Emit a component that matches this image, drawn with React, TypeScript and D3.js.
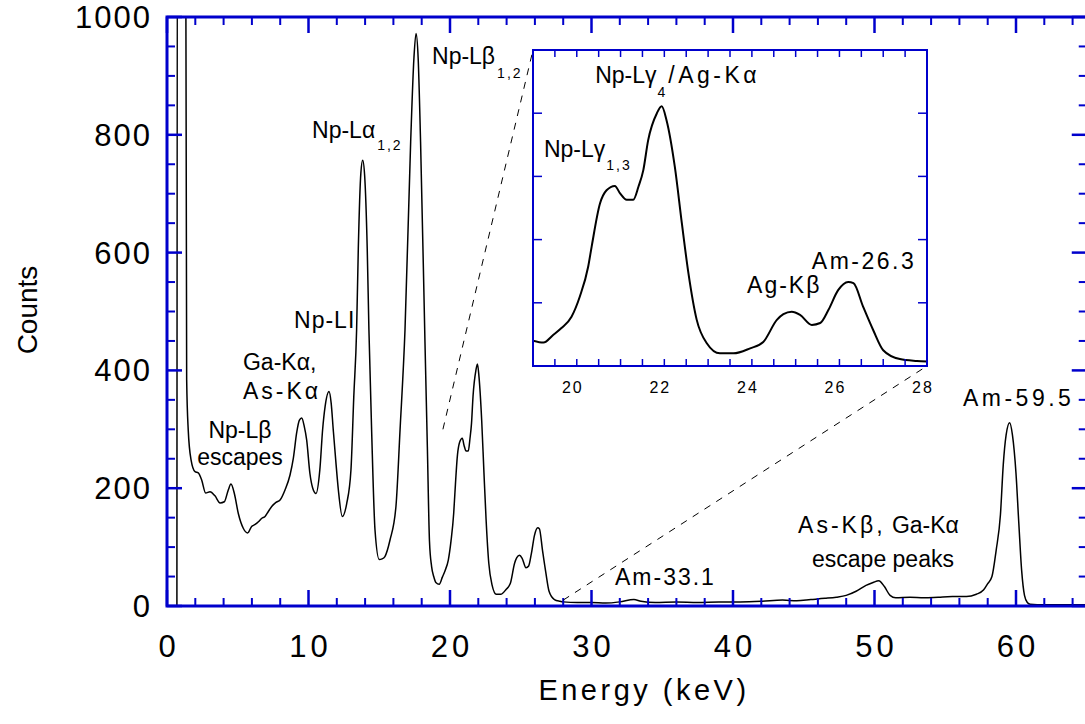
import React from "react";
import * as d3 from "d3";

// spectrum: energy (keV) and counts
const energy = [
  0.7, 0.74, 1.3, 1.39, 1.5, 1.7, 1.98, 2.21, 2.45, 2.73, 3.04, 3.39, 3.75, 4.05, 4.33, 4.52, 4.76,
  5.04, 5.39, 5.7, 5.98, 6.2, 6.46, 6.7, 6.93, 7.15, 7.4, 7.7, 7.99, 8.34, 8.69, 8.93, 9.17, 9.35,
  9.52, 9.7, 9.87, 10.1, 10.3, 10.53, 10.8, 11.0, 11.17, 11.45, 11.6, 11.75, 11.95, 12.11, 12.39,
  12.7, 13.0, 13.2, 13.4, 13.52, 13.7, 13.83, 13.97, 14.15, 14.27, 14.46, 14.7, 15.0, 15.2, 15.4,
  15.76, 16.18, 16.47, 16.82, 17.22, 17.45, 17.6, 17.75, 17.92, 18.23, 18.4, 18.55, 18.7, 18.85,
  19.0, 19.24, 19.46, 19.65, 19.88, 20.07, 20.26, 20.34, 20.53, 20.68, 20.87, 20.99, 21.14, 21.29,
  21.41, 21.52, 21.63, 21.83, 21.94, 22.05, 22.24, 22.4, 22.55, 22.74, 22.97, 23.27, 23.58, 23.96,
  24.26, 24.57, 24.72, 24.91, 25.1, 25.37, 25.56, 25.75, 25.97, 26.2, 26.32, 26.54, 26.77, 27.0,
  27.38, 27.77, 28.0, 29.0, 30.0, 31.0, 32.0, 33.0, 33.5, 34.5, 36.0, 37.5, 39.0, 40.5, 42.0, 43.5,
  44.5, 45.5, 46.5, 47.3, 48.0, 48.7, 49.4, 49.9, 50.3, 50.7, 51.1, 51.5, 52.5, 53.5, 54.5, 55.5,
  56.5, 57.2, 57.7, 58.0, 58.3, 58.6, 58.9, 59.1, 59.3, 59.55, 59.75, 60.0, 60.2, 60.4, 60.6, 60.8,
  61.0, 62.0, 63.0, 64.0, 65.0,
];
const counts = [
  0, 1400, 1400, 384, 299, 248, 228, 226, 214, 192, 194, 187, 175, 177, 197, 207, 191,
  157, 132, 124, 135, 138, 143, 149, 152, 160, 169, 176, 180, 197, 222, 251, 295, 315,
  319, 305, 282, 225, 200, 191, 231, 300, 338, 364, 345, 299, 240, 197, 152,
  174, 231, 355, 469, 607, 735, 757, 730, 607, 469, 299, 129, 79, 80, 84,
  112, 169, 299, 469, 788, 930, 972, 930, 788, 449, 270, 110, 67, 50,
  40, 37, 49, 60, 78, 110, 157, 189, 257, 278, 285, 273, 263, 263,
  284, 310, 357, 400, 411, 389, 315, 226, 147, 73, 36, 20, 20, 28,
  38, 73, 82, 86, 81, 65, 68, 89, 120, 133, 131, 94, 57, 25,
  11, 8, 7, 6, 6, 5, 7, 11, 8, 6, 7, 6, 7, 7, 8, 10,
  9, 11, 13, 15, 18, 25, 35, 40, 43, 33, 18, 14, 15, 14, 15, 16,
  16, 20, 27, 38, 50, 95, 155, 240, 290, 311, 290, 225, 140, 60, 18, 6,
  3, 2, 2, 2, 2,
];

const xMajor = [0, 10, 20, 30, 40, 50, 60];
const xMinor = d3.range(0, 66, 2);
const yMajor = [0, 200, 400, 600, 800, 1000];
const yMinor = d3.range(0, 1001, 50);
const insetXTicks = d3.range(19.5, 28, 0.5);
const insetXLabels = [20, 22, 24, 26, 28];
const insetYTicks = [100, 200, 300, 400];

const W = 1085;
const H = 724;
const BLUE = "#0000cc";
const FONT = "'Liberation Sans', Arial, Helvetica, sans-serif";

export default function App() {
  const data: [number, number][] = energy.map((e, i) => [e, counts[i]]);

  // main axes
  const x = d3.scaleLinear().domain([0, 65]).range([167, 1086.75]);
  const y = d3.scaleLinear().domain([0, 1000]).range([606, 17]);
  // inset axes (19-28 keV)
  const xi = d3.scaleLinear().domain([19, 28]).range([533, 927]);
  const yi = d3.scaleLinear().domain([0, 500]).range([366, 50]);

  const line = d3.line<[number, number]>().x((d) => x(d[0])).y((d) => y(d[1])).curve(d3.curveMonotoneX);
  const lineInset = d3.line<[number, number]>().x((d) => xi(d[0])).y((d) => yi(d[1])).curve(d3.curveMonotoneX);
  const insetData = data.filter((d) => d[0] >= 19 && d[0] <= 28);

  const [x0, x1] = x.range();
  const [y0, y1] = y.range();

  const ann = { fontFamily: FONT, fontSize: 23, fill: "#000" } as const;
  const sub = { fontSize: 14, letterSpacing: 2 } as const;

  return (
    <div style={{ position: "absolute", left: 0, top: 0 }}>
      <svg width={W} height={H} style={{ display: "block", background: "#fff" }}>
        <defs>
          <clipPath id="clipMain">
            <rect x={x0} y={y1} width={x1 - x0} height={y0 - y1} />
          </clipPath>
          <clipPath id="clipInset">
            <rect x={xi(19)} y={yi(500)} width={xi(28) - xi(19)} height={yi(0) - yi(500)} />
          </clipPath>
        </defs>

        {/* spectrum */}
        <path d={line(data) || ""} fill="none" stroke="#000" strokeWidth={1.5} clipPath="url(#clipMain)" />

        {/* frame + ticks of main plot */}
        <g stroke={BLUE}>
          {xMinor.map((t) => {
            const major = xMajor.includes(t);
            const len = major ? 16 : 8;
            return (
              <g key={"xt" + t} strokeWidth={major ? 2.5 : 2}>
                <line x1={x(t)} x2={x(t)} y1={y0} y2={y0 - len} />
                <line x1={x(t)} x2={x(t)} y1={y1} y2={y1 + len} />
              </g>
            );
          })}
          {yMinor.map((t) => {
            const major = yMajor.includes(t);
            const len = major ? 15 : 8;
            return (
              <g key={"yt" + t} strokeWidth={major ? 2.5 : 2}>
                <line x1={x0} x2={x0 + len} y1={y(t)} y2={y(t)} />
                <line x1={x1} x2={x1 - len} y1={y(t)} y2={y(t)} />
              </g>
            );
          })}
          <rect x={x0} y={y1} width={x1 - x0} height={y0 - y1} fill="none" strokeWidth={3} />
        </g>

        {/* tick labels */}
        <g fontFamily={FONT} fontSize={31} fill="#000">
          {xMajor.map((t) => (
            <text key={"xl" + t} x={x(t) + 2} y={657} textAnchor="middle" letterSpacing={4}>
              {t}
            </text>
          ))}
          {yMajor.map((t) => (
            <text key={"yl" + t} x={152} y={y(t) + 11} textAnchor="end" letterSpacing={2}>
              {t}
            </text>
          ))}
        </g>

        {/* axis titles */}
        <text x={644} y={700} textAnchor="middle" fontFamily={FONT} fontSize={29} letterSpacing={3.5}>
          Energy (keV)
        </text>
        <text transform={`translate(37,310) rotate(-90)`} textAnchor="middle" fontFamily={FONT} fontSize={28}>
          Counts
        </text>

        {/* zoom guides */}
        <g stroke="#000" strokeWidth={1} strokeDasharray="7,7" fill="none">
          <line x1={x(19.5)} y1={y(300)} x2={xi(19)} y2={yi(500)} />
          <line x1={x(28)} y1={y(10)} x2={xi(28)} y2={yi(0)} />
        </g>

        {/* inset */}
        <rect x={xi(19)} y={yi(500)} width={xi(28) - xi(19)} height={yi(0) - yi(500)} fill="#fff" />
        <path d={lineInset(insetData) || ""} fill="none" stroke="#000" strokeWidth={2} clipPath="url(#clipInset)" />
        <g stroke={BLUE} strokeWidth={1.5}>
          {insetXTicks.map((t) => (
            <g key={"ixt" + t}>
              <line x1={xi(t)} x2={xi(t)} y1={yi(0)} y2={yi(0) - 7} />
              <line x1={xi(t)} x2={xi(t)} y1={yi(500)} y2={yi(500) + 7} />
            </g>
          ))}
          {insetYTicks.map((t) => (
            <g key={"iyt" + t}>
              <line x1={xi(19)} x2={xi(19) + 9} y1={yi(t)} y2={yi(t)} />
              <line x1={xi(28)} x2={xi(28) - 9} y1={yi(t)} y2={yi(t)} />
            </g>
          ))}
          <rect x={xi(19)} y={yi(500)} width={xi(28) - xi(19)} height={yi(0) - yi(500)} fill="none" strokeWidth={2} />
        </g>
        <g fontFamily={FONT} fontSize={16} fill="#000">
          {insetXLabels.map((t) => (
            <text key={"ixl" + t} x={xi(t) - 4} y={393} textAnchor="middle" letterSpacing={2}>
              {t}
            </text>
          ))}
        </g>

        {/* peak labels, main plot */}
        <text {...ann} x={x(5.16)} y={y(285)} textAnchor="middle">Np-Lβ</text>
        <text {...ann} x={x(5.16)} y={y(239)} textAnchor="middle">escapes</text>
        <text {...ann} x={x(5.37)} y={y(401)}>Ga-Kα,</text>
        <text {...ann} x={x(5.37)} y={y(351)} letterSpacing={3}>As-Kα</text>
        <text {...ann} x={x(8.98)} y={y(472)} letterSpacing={1}>Np-LI</text>
        <text {...ann} x={x(10.25)} y={y(795)}>
          Np-Lα<tspan {...sub} dx={2} dy={12}>1,2</tspan>
        </text>
        <text {...ann} x={x(18.73)} y={y(920)}>
          Np-Lβ<tspan {...sub} dx={2} dy={14}>1,2</tspan>
        </text>
        <text {...ann} x={x(31.66)} y={y(36)} letterSpacing={2}>Am-33.1</text>
        <text {...ann} x={x(44.6)} y={y(124)}>
          <tspan letterSpacing={3}>As-Kβ,</tspan> Ga-Kα
        </text>
        <text {...ann} x={x(50.6)} y={y(66)} textAnchor="middle">escape peaks</text>
        <text {...ann} x={x(56.25)} y={y(340)} letterSpacing={3.5}>Am-59.5</text>

        {/* peak labels, inset */}
        <text {...ann} x={xi(20.42)} y={yi(448)}>
          Np-Lγ<tspan {...sub} dx={1} dy={14}>4</tspan>
          <tspan dx={1} dy={-14} letterSpacing={3.5}>/Ag-Kα</tspan>
        </text>
        <text {...ann} x={xi(19.25)} y={yi(331)}>
          Np-Lγ<tspan {...sub} dx={1} dy={13}>1,3</tspan>
        </text>
        <text {...ann} x={xi(23.89)} y={yi(115)} letterSpacing={2}>Ag-Kβ</text>
        <text {...ann} x={xi(25.37)} y={yi(154)} letterSpacing={2.5}>Am-26.3</text>
      </svg>
    </div>
  );
}
